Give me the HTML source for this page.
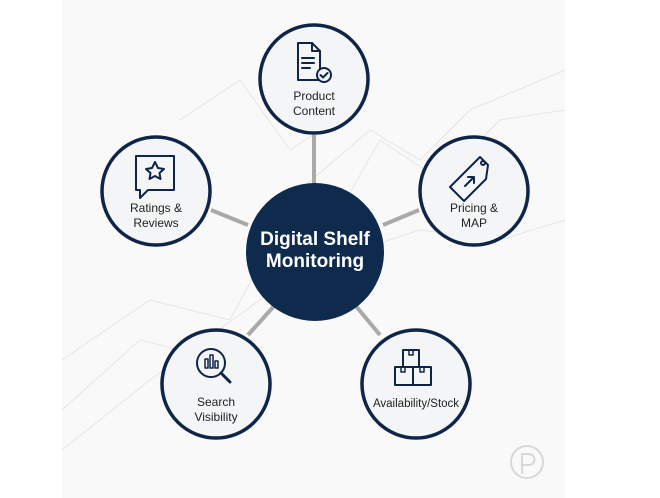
<!DOCTYPE html>
<html><head><meta charset="utf-8"><style>
html,body{margin:0;padding:0;background:#fff}
svg{display:block}
text{font-family:"Liberation Sans",sans-serif}
</style></head><body>
<svg width="660" height="498" viewBox="0 0 660 498" xmlns="http://www.w3.org/2000/svg">
<rect x="62" y="0" width="503" height="498" fill="#f9f9f9"/>
<g fill="none" stroke="#e6e6e6" stroke-width="1">
<polyline points="62,360 150,300 230,320 300,190 370,130 420,160 470,110 565,70"/>
<polyline points="62,410 140,340 220,360 300,280 380,140 440,180 500,120 565,110"/>
<polyline points="62,450 150,380 260,300 330,260 420,230 500,240 565,220"/>
<polyline points="180,120 240,80 290,150 350,110"/>
</g>
<g stroke="#a9a9a9" stroke-width="4">
<line x1="314" y1="135" x2="314" y2="185"/>
<line x1="211" y1="210" x2="248" y2="225"/>
<line x1="419" y1="210" x2="383" y2="225"/>
<line x1="248" y1="335" x2="275" y2="305"/>
<line x1="380" y1="335" x2="355" y2="305"/>
</g>
<circle cx="315" cy="252" r="69" fill="#0e2a4d"/>
<text x="315" y="245" text-anchor="middle" fill="#fff" font-size="19" font-weight="bold">Digital Shelf</text>
<text x="315" y="267" text-anchor="middle" fill="#fff" font-size="19" font-weight="bold">Monitoring</text>
<g fill="#f4f5f6" stroke="#0f2548" stroke-width="3.5">
<circle cx="314" cy="79" r="54"/>
<circle cx="156" cy="191" r="54"/>
<circle cx="474" cy="191" r="54"/>
<circle cx="216" cy="384" r="54"/>
<circle cx="416" cy="384" r="54"/>
</g>
<g font-size="12" fill="#222" text-anchor="middle">
<text x="314" y="100">Product</text><text x="314" y="115">Content</text>
<text x="156" y="212">Ratings &amp;</text><text x="156" y="227">Reviews</text>
<text x="474" y="212">Pricing &amp;</text><text x="474" y="227">MAP</text>
<text x="216" y="406">Search</text><text x="216" y="421">Visibility</text>
<text x="416" y="407" font-size="11.5">Availability/Stock</text>
</g>
<g fill="none" stroke="#0f2548" stroke-width="2" stroke-linejoin="round" stroke-linecap="round">
<!-- document -->
<path d="M298,43 h14 l8,8 v29 h-22 z"/>
<path d="M312,43 v8 h8"/>
<path d="M302,58 h12 M302,63 h12 M302,68 h8"/>
<circle cx="324" cy="75" r="7" fill="#f4f5f6"/>
<path d="M320.5,75 l2.5,2.5 l4.5,-4.5"/>
<!-- speech bubble star -->
<path d="M136,156 h38 v34 h-26 l-8,8 v-8 h-4 z"/>
<path d="M155,162 l3,6 6,1 -4.5,4 1,6 -5.5,-3 -5.5,3 1,-6 -4.5,-4 6,-1 z"/>
<!-- tag -->
<path d="M480,157 l8,8 -2,14 -22,22 -14,-14 22,-22 z"/>
<circle cx="483" cy="163" r="2"/>
<path d="M465,186 l9,-9 M468,177 h6 v6"/>
<!-- search -->
<circle cx="211" cy="363" r="14"/>
<path d="M221,373 l9,9" stroke-width="3"/>
<path d="M205,359 v9 h3 v-9 z M210,355 v13 h3 v-13 z M215,361 v7 h3 v-7 z" stroke-width="1.5"/>
<!-- boxes -->
<rect x="403" y="350" width="16" height="17"/>
<rect x="395" y="367" width="18" height="18"/>
<rect x="413" y="367" width="18" height="18"/>
<path d="M409,350 v5 h4 v-5 M401,367 v5 h4 v-5 M420,367 v5 h4 v-5" stroke-width="1.5"/>
</g>
<circle cx="527" cy="462" r="16" fill="none" stroke="#d8d8d8" stroke-width="2"/>
<path d="M522,474 v-20 h7 a5,5 0 0 1 0,11 h-7" fill="none" stroke="#d8d8d8" stroke-width="2"/>
</svg>
</body></html>
